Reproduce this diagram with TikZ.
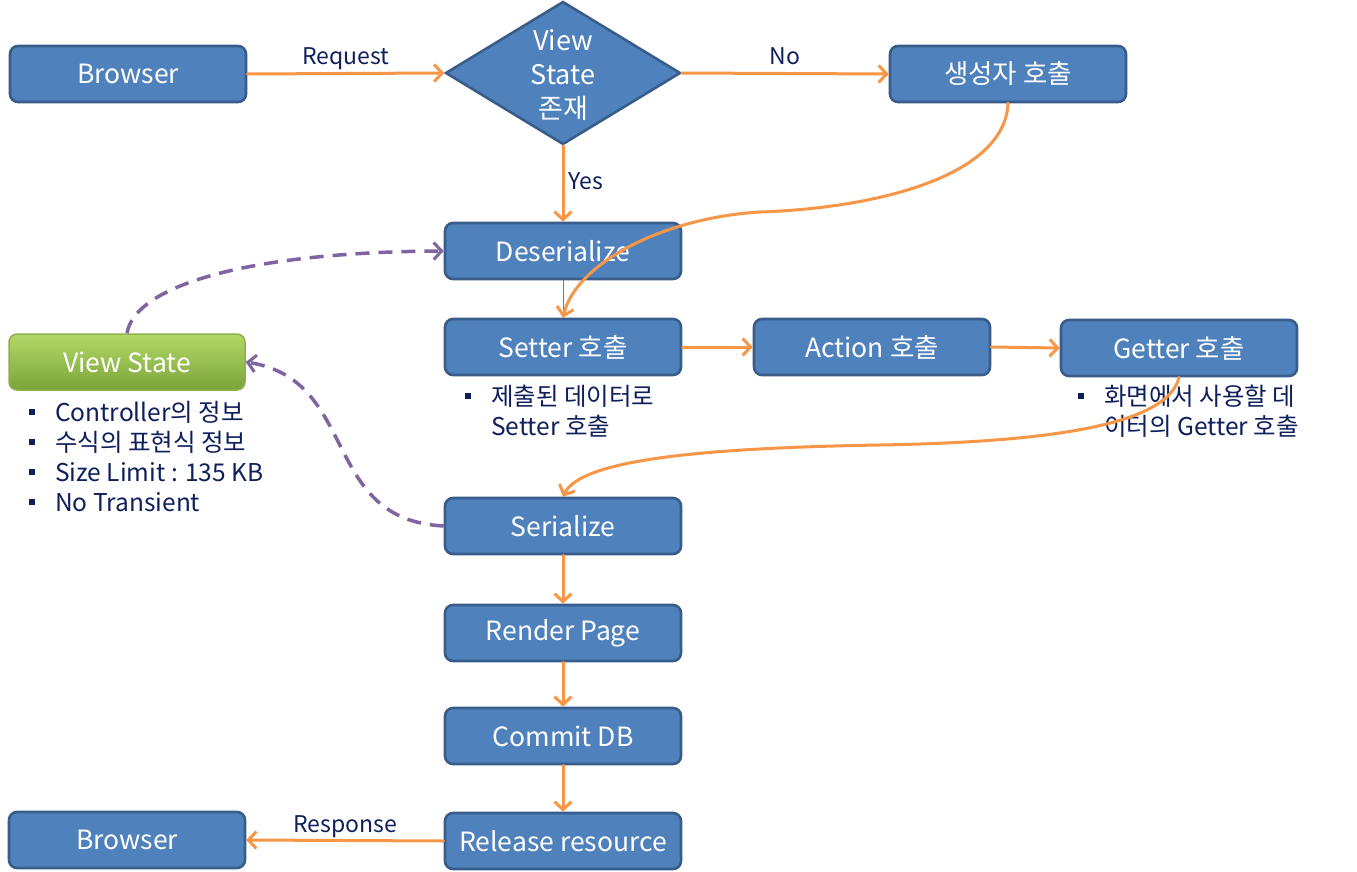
\documentclass[tikz,border=0pt]{standalone}
\usepackage{fontspec}
\setmainfont{Noto Sans CJK KR}
\usetikzlibrary{arrows.meta,shapes.geometric}
\definecolor{boxfill}{HTML}{4F81BD}
\definecolor{boxline}{HTML}{385D8A}
\definecolor{flow}{HTML}{F79646}
\definecolor{purp}{HTML}{8064A2}
\definecolor{navy}{HTML}{0E1F5C}
\definecolor{gtop}{HTML}{B4D867}
\definecolor{gbot}{HTML}{7AA43A}
\definecolor{gline}{HTML}{8DB04A}
\newcommand{\bulsq}{\makebox[25pt][l]{\hspace{-1pt}\raisebox{0.28em}{\rule{6pt}{6pt}}}}
\tikzset{
  x=1pt, y=-1pt,
  procbox/.style={draw=boxline, fill=boxfill, line width=2.6pt, rounded corners=8pt,
    minimum width=236pt, minimum height=56pt, inner sep=0pt, text=white,
    font=\fontsize{26.5}{30}\selectfont},
  decbox/.style={draw=boxline, fill=boxfill, line width=2.6pt, diamond,
    minimum width=235pt, minimum height=143pt, inner sep=0pt},
  greenbox/.style={draw=gline, top color=gtop, bottom color=gbot, line width=1.5pt,
    rounded corners=8pt, minimum width=236pt, minimum height=56pt, inner sep=0pt,
    text=white, font=\fontsize{26.5}{30}\selectfont},
  flowarrow/.style={draw=flow, line width=3pt, line cap=round,
    -{Straight Barb[length=8pt,width=17pt,line width=3pt]}},
  statearrow/.style={draw=purp, line width=3.5pt, dash pattern=on 14pt off 9pt,
    -{Straight Barb[length=8pt,width=17pt,line width=3pt]}},
  elabel/.style={text=navy, font=\fontsize{23}{26}\selectfont, inner sep=0pt,
    text height=16pt, text depth=5pt},
  notetext/.style={text=navy, font=\fontsize{24.5}{30}\selectfont, align=left,
    inner sep=0pt, anchor=north west},
}
\begin{document}
\begin{tikzpicture}
\useasboundingbox (0,0) rectangle (1357,872);
\fill[white] (0,0) rectangle (1357,872);

% main nodes
\node[procbox] (br1) at (128,74) {Browser};
\node[decbox] (vs) at (563,73) {};
\node[text=white, align=center, font=\fontsize{27}{34}\selectfont, inner sep=0pt] (vstxt) at (563,75) {View\\State\\존재};
\node[procbox] (gen) at (1008,74) {생성자 호출};
\node[procbox] (des) at (563,251) {Deserialize};
\node[procbox] (set) at (563,347) {Setter 호출};
\node[procbox] (act) at (872,347) {Action 호출};
\node[procbox] (get) at (1179,348) {Getter 호출};
\node[greenbox] (vstate) at (127,362) {View State};
\node[procbox] (ser) at (563,526) {Serialize};
\node[procbox] (ren) at (563,633) {Render Page};
\node[procbox] (com) at (563,736) {Commit DB};
\node[procbox] (rel) at (563,841) {Release resource};
\node[procbox] (br2) at (127,840) {Browser};

% notes
\node[notetext] (n1) at (30,401) {\bulsq Controller의 정보\\\bulsq 수식의 표현식 정보\\\bulsq Size Limit : 135 KB\\\bulsq No Transient};
\node[notetext] (n2) at (466,385) {\bulsq 제출된 데이터로\\\hspace{25pt}Setter 호출};
\node[notetext] (n3) at (1079,385) {\bulsq 화면에서 사용할 데\\\hspace{25pt}이터의 Getter 호출};

% connectors
\draw[flowarrow] (br1.east) -- node[elabel, above=2pt] {Request} (vs.west);
\draw[flowarrow] (vs.east) -- node[elabel, above=2pt] {No} (gen.west);
\draw[flowarrow] (vs.south) -- node[elabel, right=4pt] {Yes} (des.north);
\draw[boxfill, line width=1pt] (des.south) -- (set.north);
\draw[flowarrow] (gen.south) .. controls (1005,175) and (880,208) .. (760,212)
  .. controls (660,218) and (575,265) .. (set.north);
\draw[flowarrow] (set.east) -- (act.west);
\draw[flowarrow] (act.east) -- (get.west);
\draw[flowarrow] (get.south) .. controls (1168,425) and (1050,442) .. (880,445)
  .. controls (700,448) and (580,460) .. (ser.north);
\draw[flowarrow] (ser.south) -- (ren.north);
\draw[flowarrow] (ren.south) -- (com.north);
\draw[flowarrow] (com.south) -- (rel.north);
\draw[flowarrow] (rel.west) -- node[elabel, above=2pt] {Response} (br2.east);
\draw[statearrow] (vstate.north) .. controls (135,285) and (250,252) .. (des.west);
\draw[statearrow] (ser.west) .. controls (320,520) and (360,380) .. (vstate.east);
\end{tikzpicture}
\end{document}
